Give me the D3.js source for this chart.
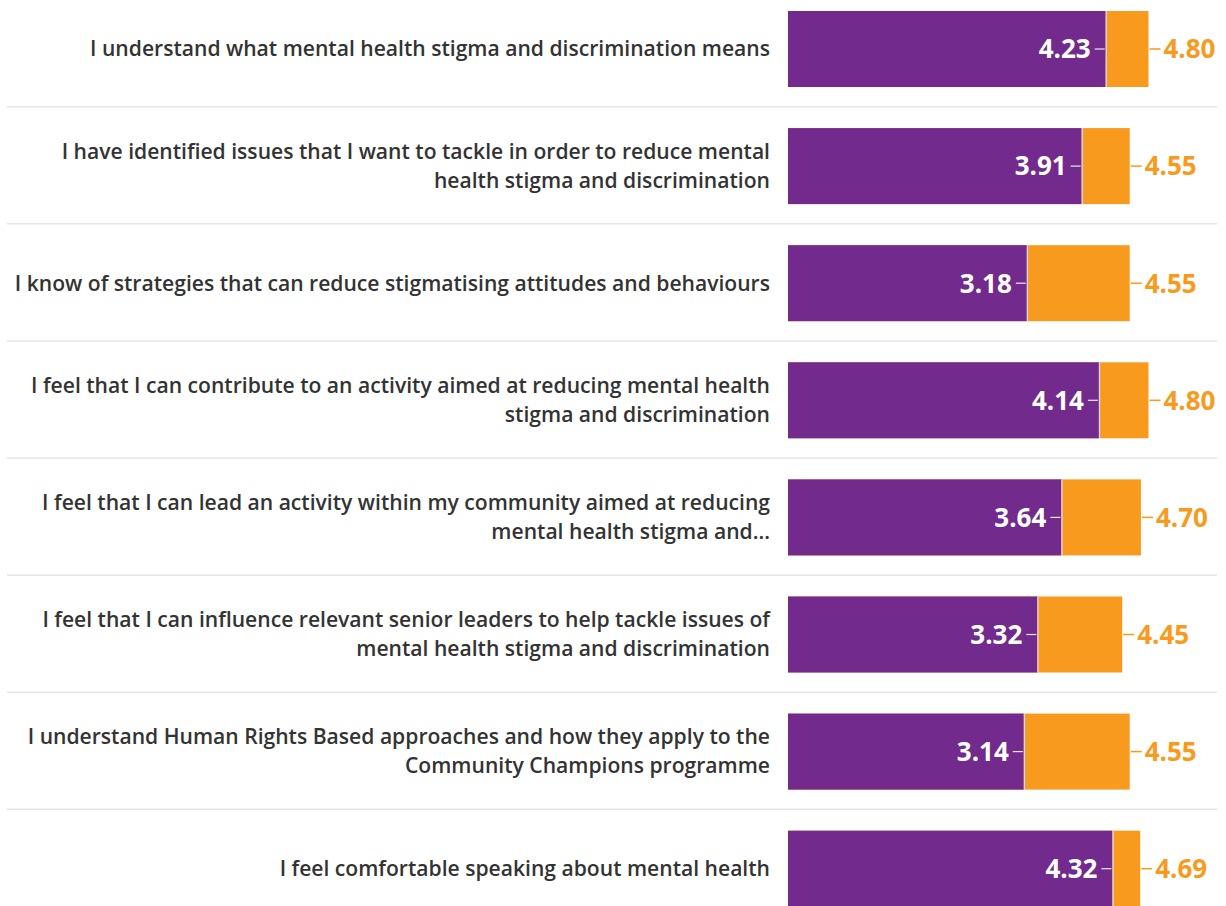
<!DOCTYPE html>
<html>
<head>
<meta charset="utf-8">
<script src="https://cdn.jsdelivr.net/npm/d3@7"></script>
<style>
  html, body { margin: 0; padding: 0; background: #fff; }
  svg { display: block; }
</style>
</head>
<body>
<svg id="chart" width="1226" height="906"></svg>
<script>
const categories = [
  "I understand what mental health stigma and discrimination means",
  "I have identified issues that I want to tackle in order to reduce mental|health stigma and discrimination",
  "I know of strategies that can reduce stigmatising attitudes and behaviours",
  "I feel that I can contribute to an activity aimed at reducing mental health|stigma and discrimination",
  "I feel that I can lead an activity within my community aimed at reducing|mental health stigma and...",
  "I feel that I can influence relevant senior leaders to help tackle issues of|mental health stigma and discrimination",
  "I understand Human Rights Based approaches and how they apply to the|Community Champions programme",
  "I feel comfortable speaking about mental health"
];
const beforeValues = [4.23, 3.91, 3.18, 4.14, 3.64, 3.32, 3.14, 4.32];
const afterValues  = [4.80, 4.55, 4.55, 4.80, 4.70, 4.45, 4.55, 4.69];

const purple = "#722a8d";
const orange = "#f79a1e";

const svg = d3.select("#chart");
const step = 117.1;
const y = d3.scaleBand().domain(categories).range([-9.55, -9.55 + step * categories.length]).padding(0);
const barH = 76;
const x = d3.scaleLinear().domain([0, 5]).range([788, 1163.5]);

const rows = categories.map((c, i) => ({ cat: c, pre: beforeValues[i], post: afterValues[i], i }));

// separators
svg.append("g").selectAll("line").data(rows.slice(0, -1)).join("line")
  .attr("x1", 7).attr("x2", 1217)
  .attr("y1", d => y(d.cat) + y.bandwidth() - 0.8)
  .attr("y2", d => y(d.cat) + y.bandwidth() - 0.8)
  .attr("stroke", "#e6e6e6").attr("stroke-width", 1.5);

const g = svg.append("g").selectAll("g").data(rows).join("g");
const cy = d => y(d.cat) + y.bandwidth() / 2;

g.append("rect")
  .attr("x", x(0)).attr("y", d => cy(d) - barH / 2)
  .attr("width", d => x(d.post) - x(0)).attr("height", barH)
  .attr("fill", orange);
g.append("rect")
  .attr("x", x(0)).attr("y", d => cy(d) - barH / 2)
  .attr("width", d => x(d.pre) - x(0)).attr("height", barH)
  .attr("fill", purple);
g.append("line")
  .attr("x1", d => x(d.pre) + 0.6).attr("x2", d => x(d.pre) + 0.6)
  .attr("y1", d => cy(d) - barH / 2).attr("y2", d => cy(d) + barH / 2)
  .attr("stroke", "#e4d6ec").attr("stroke-width", 1.3);

// purple value labels
g.append("line")
  .attr("x1", d => x(d.pre) - 11).attr("x2", d => x(d.pre) - 1)
  .attr("y1", cy).attr("y2", cy)
  .attr("stroke", "#efe6f3").attr("stroke-width", 1.2);
g.append("text")
  .attr("x", d => x(d.pre) - 15).attr("y", cy).attr("dy", "0.36em")
  .attr("text-anchor", "end")
  .attr("font-family", "'Open Sans', sans-serif").attr("font-weight", 700)
  .attr("font-size", 26).attr("fill", "#fff")
  .text(d => d.pre.toFixed(2));

// orange value labels
g.append("line")
  .attr("x1", d => x(d.post) + 1).attr("x2", d => x(d.post) + 12)
  .attr("y1", cy).attr("y2", cy)
  .attr("stroke", orange).attr("stroke-width", 1.5);
g.append("text")
  .attr("x", d => x(d.post) + 15).attr("y", cy).attr("dy", "0.36em")
  .attr("font-family", "'Open Sans', sans-serif").attr("font-weight", 700)
  .attr("font-size", 26).attr("fill", orange)
  .text(d => d.post.toFixed(2));

// category labels
const lineH = 29;
g.each(function(d) {
  const lines = d.cat.split("|");
  const t = d3.select(this).append("text")
    .attr("text-anchor", "end")
    .attr("font-family", "'Open Sans', sans-serif").attr("font-weight", 600)
    .attr("font-size", 21.1).attr("fill", "#333333");
  lines.forEach((ln, k) => {
    t.append("tspan")
      .attr("x", 770)
      .attr("y", cy(d) + (k - (lines.length - 1) / 2) * lineH)
      .attr("dy", "0.35em")
      .text(ln);
  });
});
</script>
</body>
</html>
